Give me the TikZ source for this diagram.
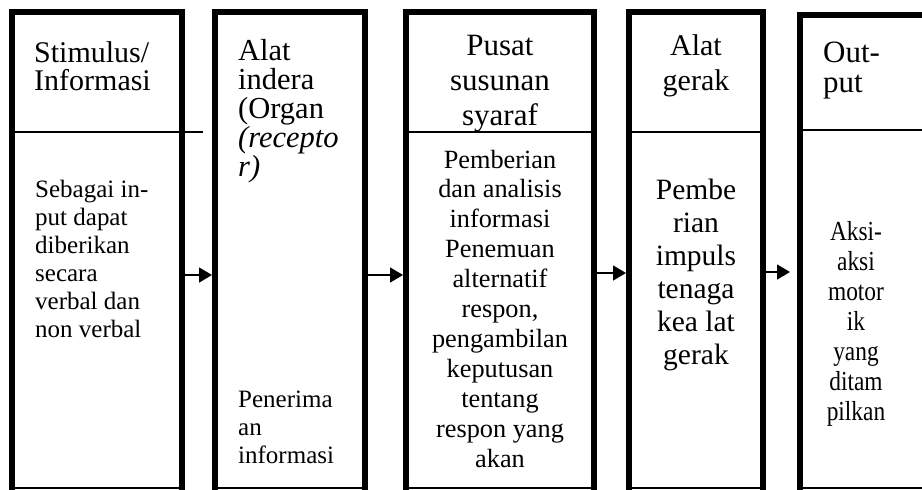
\documentclass[tikz,border=0pt]{standalone}
\usepackage{fontspec}
\setmainfont{Liberation Serif}
\newfontfamily\narrowserif[FakeStretch=0.85]{Liberation Serif}
\usetikzlibrary{arrows.meta}
\begin{document}
\begin{tikzpicture}[x=1pt,y=-1pt,
  frame/.style={line width=6pt, line join=miter, line cap=butt},
  rule/.style={line width=1.3pt},
  arr/.style={line width=1.5pt, -{Triangle[length=13pt,width=15pt]}},
  slot/.style={draw=none, inner sep=0pt, minimum height=478pt, anchor=north west},
  txt/.style={inner sep=0pt},
]
\useasboundingbox (0,0) rectangle (922,490);
\clip (0,0) rectangle (922,490);

% the five stages
\node[slot, minimum width=170.5pt] (b1) at (11.5,12) {};
\node[slot, minimum width=149.5pt] (b2) at (215,12) {};
\node[slot, minimum width=188pt]   (b3) at (406,12) {};
\node[slot, minimum width=133.5pt] (b4) at (629,12) {};
\node[slot, minimum width=160pt, minimum height=475.5pt] (b5) at (800,14.5) {};

\foreach \b in {b1,b2,b3,b4,b5}{
  \draw[frame] (\b.south west) -- (\b.north west) -- (\b.north east) -- (\b.south east);
  \draw[rule] ([yshift=2.5pt]\b.south west) -- ([yshift=2.5pt]\b.south east);
}

% header / body dividers
\coordinate (divy) at (0,132);
\coordinate (div1end) at (203,132);
\draw[rule] (b1.west |- divy) -- (div1end);
\draw[rule] (b3.west |- divy) -- (b3.east |- divy);
\draw[rule] (b4.west |- divy) -- (b4.east |- divy);
\draw[rule] ([yshift=-115.5pt]b5.north west) -- ([yshift=-115.5pt]b5.north east);

% flow arrows
\coordinate (a1) at (0,275);
\coordinate (a3) at (0,273);
\coordinate (a4) at (0,272);
\draw[arr, shorten <=3pt, shorten >=3pt] (b1.east |- a1) -- (b2.west |- a1);
\draw[arr, shorten <=3pt, shorten >=3pt] (b2.east |- a1) -- (b3.west |- a1);
\draw[arr, shorten <=3pt, shorten >=3pt] (b3.east |- a3) -- (b4.west |- a3);
\draw[arr, shorten <=3pt, shorten >=10pt] (b4.east |- a4) -- (b5.west |- a4);

% texts (each node is placed by the baseline of its last line)
\node[txt, anchor=base west, align=left, font=\fontsize{30}{28}\selectfont] (h1) at (34,90)
  {Stimulus/\\Informasi};
\node[txt, anchor=base west, align=left, font=\fontsize{25}{28}\selectfont] (c1) at (35,337)
  {Sebagai in-\\put dapat\\diberikan\\secara\\verbal dan\\non verbal};

\node[txt, anchor=base west, align=left, font=\fontsize{30.5}{29}\selectfont] (h2) at (238,176)
  {Alat\\indera\\(Organ\\\textit{(recepto}\\\textit{r)}};
\node[txt, anchor=base west, align=left, font=\fontsize{25}{28}\selectfont] (c2) at (238,463)
  {Penerima\\an\\informasi};

\node[txt, anchor=base, align=center, font=\fontsize{31}{35}\selectfont] (h3) at (500,125)
  {Pusat\\susunan\\syaraf};
\node[txt, anchor=base, align=center, font=\fontsize{26.3}{29.9}\selectfont] (c3) at (500,467)
  {Pemberian\\dan analisis\\informasi\\Penemuan\\alternatif\\respon,\\pengambilan\\keputusan\\tentang\\respon yang\\akan};

\node[txt, anchor=base, align=center, font=\fontsize{30}{35}\selectfont] (h4) at (696,90)
  {Alat\\gerak};
\node[txt, anchor=base, align=center, font=\fontsize{29.5}{33}\selectfont] (c4) at (696,364)
  {Pembe\\rian\\impuls\\tenaga\\kea lat\\gerak};

\node[txt, anchor=base west, align=left, font=\fontsize{31}{30}\selectfont] (h5) at (823,92)
  {Out-\\put};
\node[txt, anchor=base, align=center, font=\narrowserif\fontsize{27.5}{30}\selectfont] (c5) at (856,420)
  {Aksi-\\aksi\\motor\\ik\\yang\\ditam\\pilkan};
\end{tikzpicture}
\end{document}
